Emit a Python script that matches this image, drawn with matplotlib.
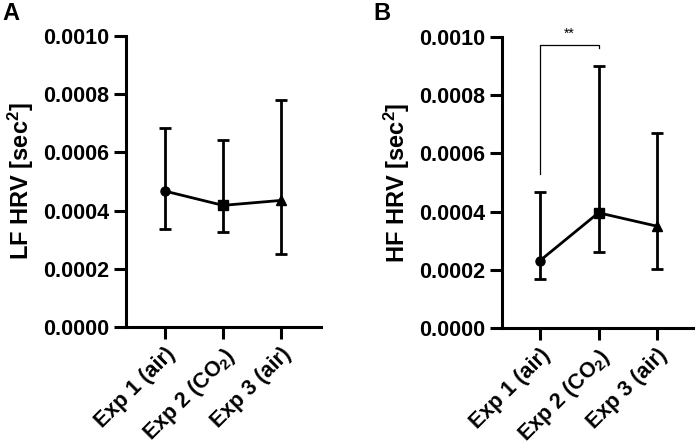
import numpy as np
import matplotlib.pyplot as plt

plt.rcParams['font.family'] = ['Liberation Sans', 'DejaVu Sans']
plt.rcParams['font.weight'] = 'bold'
plt.rcParams['mathtext.default'] = 'regular'

categories = ["Exp 1 (air)", r"Exp 2 (CO$\mathregular{_2}$)", "Exp 3 (air)"]

# panel A: LF HRV
lf_mean = [0.000467, 0.000418, 0.000435]
lf_low = [0.000336, 0.000325, 0.000251]
lf_high = [0.000684, 0.000641, 0.000780]

# panel B: HF HRV
hf_mean = [0.000232, 0.000396, 0.000350]
hf_low = [0.000170, 0.000263, 0.000204]
hf_high = [0.000468, 0.000900, 0.000669]

markers = ['o', 's', '^']
yticks = [0.0, 0.0002, 0.0004, 0.0006, 0.0008, 0.0010]

fig = plt.figure(figsize=(6.98, 4.46), dpi=100)
axA = fig.add_axes([0.1805, 0.2668, 0.2795, 0.6525])
axB = fig.add_axes([0.7188, 0.2640, 0.2740, 0.6538])


def draw(ax, mean, low, high, ylabel, xlim):
    x = np.arange(len(mean))
    mean = np.array(mean)
    yerr = [mean - np.array(low), np.array(high) - mean]
    ax.errorbar(x, mean, yerr=yerr, color='black', lw=2.0, capsize=4,
                capthick=2.0, fmt='none', zorder=2)
    ax.plot(x, mean, color='black', lw=2.0, zorder=3)
    for xi, yi, m in zip(x, mean, markers):
        ax.plot(xi, yi, marker=m, color='black', ms=6.5, zorder=4)
    ax.set_ylim(0, 0.001)
    ax.set_xlim(*xlim)
    ax.set_yticks(yticks)
    ax.set_yticklabels(["%.4f" % v for v in yticks])
    ax.set_xticks(x)
    ax.set_xticklabels(categories, rotation=45, ha='right',
                       rotation_mode='anchor', fontsize=15, fontweight='bold')
    ax.set_ylabel(ylabel, fontsize=17, fontweight='bold', labelpad=5)
    for s in ['top', 'right']:
        ax.spines[s].set_visible(False)
    for s in ['left', 'bottom']:
        ax.spines[s].set_linewidth(2.2)
    ax.tick_params(axis='both', width=2.2, length=8.5, labelsize=15.5)
    for lab in ax.get_yticklabels():
        lab.set_fontweight('bold')


draw(axA, lf_mean, lf_low, lf_high, r"LF HRV [sec$\mathregular{^2}$]", (-0.672, 2.69))
draw(axB, hf_mean, hf_low, hf_high, r"HF HRV [sec$\mathregular{^2}$]", (-0.655, 2.615))

# significance bracket Exp1 vs Exp2
axB.plot([0, 0, 1, 1], [0.00053, 0.00097, 0.00097, 0.00096],
         color='black', lw=0.9, clip_on=False)
axB.text(0.5, 0.000985, "**", ha='center', va='bottom', fontsize=10,
         fontweight='normal')

fig.text(0.003, 0.995, "A", fontsize=17, fontweight='bold', va='top', ha='left')
fig.text(0.535, 0.995, "B", fontsize=17, fontweight='bold', va='top', ha='left')

fig.savefig("out.png", dpi=100)
